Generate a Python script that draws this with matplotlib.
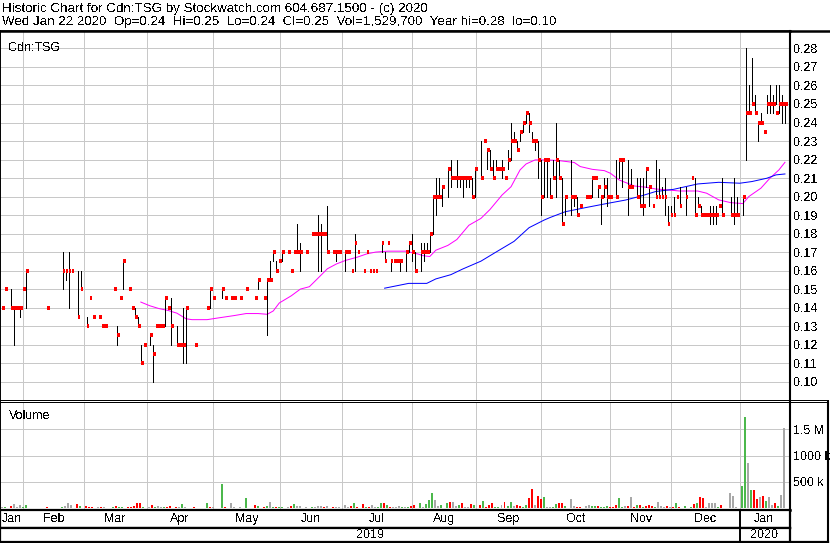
import numpy as np
import pandas as pd
import matplotlib
matplotlib.use("Agg")
import matplotlib.pyplot as plt

plt.rcParams['font.family'] = ['Liberation Sans', 'DejaVu Sans']
plt.rcParams['text.antialiased'] = False

# x axis is the trading-day number counted from Tue Jan 22 2019
days = pd.bdate_range("2019-01-22", "2020-01-22")

bar_day = [1, 2, 4, 5, 6, 7, 8, 9, 16, 21,
           22, 23, 24, 26, 27, 29, 30, 31, 33, 34,
           35, 38, 39, 40, 41, 43, 44, 45, 46, 47,
           48, 50, 51, 52, 53, 54, 55, 56, 57, 59,
           60, 61, 62, 65, 69, 70, 71, 74, 75, 77,
           78, 80, 82, 85, 86, 88, 89, 90, 91, 92,
           93, 94, 96, 97, 98, 99, 100, 102, 104, 105,
           106, 107, 108, 109, 111, 112, 113, 115, 116, 117,
           118, 119, 121, 122, 123, 124, 125, 127, 128, 129,
           130, 131, 132, 133, 135, 136, 137, 138, 140, 141,
           142, 143, 144, 145, 146, 147, 149, 150, 151, 152,
           153, 154, 155, 156, 157, 158, 160, 161, 162, 163,
           164, 165, 166, 167, 168, 169, 170, 171, 172, 173,
           174, 175, 176, 177, 178, 179, 180, 181, 182, 183,
           184, 185, 186, 187, 188, 190, 191, 192, 193, 195,
           196, 197, 198, 199, 200, 201, 202, 203, 205, 206,
           207, 209, 210, 212, 213, 214, 215, 216, 217, 218,
           219, 220, 221, 222, 223, 224, 225, 226, 228, 230,
           231, 232, 233, 234, 235, 236, 237, 238, 239, 240,
           243, 244, 245, 247, 248, 249, 250, 251, 252, 253,
           254, 255, 256, 257, 258, 259, 260, 261]
bar_high = [.14, .15, .15, .14, .14, .14, .15, .16, .14, .17,
            .16, .17, .16, .16, .16, .135, .145, .135, .135, .13,
            .13, .15, .13, .145, .165, .15, .14, .14, .135, .12,
            .12, .125, .12, .13, .13, .13, .145, .14, .145, .13,
            .12, .14, .14, .12, .14, .15, .145, .15, .145, .145,
            .145, .145, .15, .145, .155, .145, .155, .165, .17, .165,
            .165, .17, .17, .16, .17, .185, .175, .17, .18, .18,
            .19, .185, .18, .195, .17, .17, .17, .17, .17, .16,
            .18, .17, .16, .17, .16, .16, .16, .175, .17, .175,
            .165, .165, .165, .165, .17, .175, .18, .17, .175, .175,
            .175, .18, .20, .21, .21, .205, .215, .22, .21, .22,
            .21, .21, .21, .21, .21, .215, .23, .23, .225, .225,
            .22, .22, .215, .22, .21, .225, .24, .235, .23, .235,
            .24, .245, .245, .235, .23, .23, .22, .22, .22, .21,
            .22, .24, .22, .21, .20, .22, .20, .20, .195, .20,
            .20, .21, .21, .205, .20, .21, .21, .20, .22, .22,
            .22, .22, .215, .21, .21, .21, .215, .205, .195, .22,
            .215, .205, .21, .195, .195, .20, .20, .205, .205, .21,
            .21, .20, .195, .19, .19, .195, .195, .195, .195, .21,
            .20, .21, .20, .20, .28, .26, .275, .255, .24, .245,
            .235, .255, .26, .255, .26, .26, .255, .25]
bar_low = [.14, .15, .14, .12, .14, .135, .15, .14, .14, .15,
           .155, .14, .16, .135, .15, .13, .145, .135, .135, .13,
           .13, .15, .12, .145, .15, .15, .14, .135, .13, .11,
           .12, .12, .10, .13, .13, .13, .13, .14, .12, .12,
           .12, .11, .11, .12, .14, .14, .145, .145, .145, .145,
           .145, .145, .15, .145, .15, .145, .125, .155, .165, .16,
           .165, .165, .17, .16, .17, .17, .16, .17, .18, .18,
           .16, .16, .18, .17, .17, .165, .17, .16, .17, .16,
           .16, .17, .16, .17, .16, .16, .16, .17, .165, .175,
           .16, .165, .165, .16, .16, .17, .165, .16, .16, .165,
           .17, .17, .18, .19, .20, .195, .20, .205, .21, .205,
           .205, .20, .205, .205, .20, .20, .21, .23, .215, .215,
           .21, .215, .215, .21, .21, .215, .22, .23, .225, .23,
           .235, .24, .235, .23, .225, .21, .19, .20, .20, .20,
           .21, .20, .21, .185, .19, .19, .195, .19, .195, .20,
           .20, .20, .21, .20, .185, .20, .195, .20, .20, .21,
           .205, .19, .205, .20, .195, .19, .205, .195, .195, .20,
           .20, .20, .19, .185, .19, .19, .20, .195, .19, .21,
           .19, .195, .19, .19, .19, .185, .185, .185, .195, .19,
           .19, .185, .19, .19, .22, .245, .25, .245, .23, .24,
           .235, .245, .245, .245, .25, .245, .24, .24]
bar_close = [.14, .15, .14, .14, .14, .14, .15, .16, .14, .16,
             .16, .16, .16, .135, .15, .13, .145, .135, .135, .13,
             .13, .15, .125, .145, .165, .15, .14, .135, .13, .11,
             .12, .125, .115, .13, .13, .13, .145, .14, .13, .12,
             .12, .12, .14, .12, .14, .15, .145, .15, .145, .145,
             .145, .145, .15, .145, .155, .145, .155, .155, .17, .16,
             .165, .17, .17, .16, .17, .17, .17, .17, .18, .18,
             .18, .18, .18, .17, .17, .17, .17, .17, .17, .16,
             .175, .17, .16, .17, .16, .16, .16, .175, .165, .175,
             .165, .165, .165, .165, .17, .175, .17, .16, .17, .17,
             .17, .18, .20, .20, .20, .205, .215, .21, .21, .21,
             .21, .21, .21, .21, .20, .215, .21, .23, .225, .215,
             .21, .215, .215, .215, .21, .22, .23, .23, .225, .235,
             .24, .245, .24, .23, .23, .22, .20, .22, .22, .20,
             .21, .22, .21, .185, .20, .20, .20, .19, .195, .20,
             .20, .21, .21, .205, .20, .205, .20, .20, .20, .22,
             .22, .205, .205, .20, .195, .195, .215, .205, .195, .20,
             .20, .20, .20, .185, .19, .19, .20, .195, .20, .21,
             .19, .195, .19, .19, .19, .19, .19, .19, .195, .19,
             .19, .19, .19, .20, .245, .245, .25, .245, .24, .24,
             .235, .25, .25, .25, .245, .25, .25, .25]

# daily volume in thousands; direction u = up, d = down, n = unchanged
vol_day = [1, 2, 4, 5, 6, 7, 8, 9, 16, 21,
           22, 23, 24, 26, 27, 29, 30, 31, 33, 34,
           35, 38, 39, 40, 41, 43, 44, 45, 46, 47,
           48, 50, 51, 52, 53, 54, 55, 56, 57, 59,
           60, 61, 62, 65, 69, 70, 71, 74, 75, 77,
           78, 80, 82, 85, 86, 88, 89, 90, 91, 92,
           93, 94, 96, 97, 98, 99, 100, 102, 104, 105,
           106, 107, 108, 109, 111, 112, 113, 115, 116, 117,
           118, 119, 121, 122, 123, 124, 125, 126, 127, 128,
           129, 130, 131, 132, 133, 134, 135, 136, 137, 138,
           140, 141, 142, 143, 144, 145, 146, 147, 149, 150,
           151, 152, 153, 154, 155, 156, 157, 158, 160, 161,
           162, 163, 164, 165, 166, 167, 168, 169, 170, 171,
           172, 173, 174, 175, 176, 177, 178, 179, 180, 181,
           182, 183, 184, 185, 186, 187, 188, 190, 191, 192,
           193, 195, 196, 197, 198, 199, 200, 201, 202, 203,
           204, 205, 206, 207, 208, 209, 210, 211, 212, 213,
           214, 215, 216, 217, 218, 219, 220, 221, 222, 223,
           224, 225, 226, 228, 230, 231, 232, 233, 234, 235,
           236, 237, 238, 239, 240, 243, 244, 245, 247, 248,
           249, 250, 251, 252, 253, 254, 255, 256, 257, 258,
           259, 260, 261]
vol_k = [23, 23, 40, 75, 23, 57, 23, 57, 17, 23,
         40, 110, 57, 75, 40, 40, 23, 23, 23, 23,
         23, 23, 40, 23, 23, 23, 23, 40, 92, 92,
         23, 23, 57, 23, 40, 23, 23, 23, 40, 23,
         23, 75, 23, 23, 92, 17, 17, 465, 17, 92,
         17, 17, 195, 57, 40, 17, 40, 126, 17, 17,
         17, 17, 17, 40, 75, 40, 40, 17, 17, 17,
         40, 40, 17, 40, 17, 17, 17, 57, 23, 40,
         92, 17, 75, 17, 17, 57, 23, 17, 92, 92,
         57, 17, 17, 17, 40, 17, 17, 17, 40, 57,
         110, 17, 75, 155, 293, 155, 40, 57, 92, 120,
         120, 40, 57, 92, 17, 17, 75, 57, 57, 138,
         17, 57, 92, 17, 17, 57, 126, 40, 120, 40,
         57, 40, 17, 57, 190, 368, 57, 230, 178, 207,
         17, 17, 17, 75, 92, 92, 40, 178, 40, 17,
         17, 40, 57, 40, 40, 40, 25, 25, 44, 25,
         25, 57, 196, 25, 44, 44, 215, 25, 57, 57,
         25, 44, 57, 44, 25, 120, 44, 25, 44, 25,
         25, 101, 25, 44, 25, 76, 101, 215, 196, 25,
         101, 101, 101, 25, 57, 285, 234, 25, 418, 1730,
         861, 348, 348, 177, 209, 234, 139, 209, 57, 95,
         44, 247, 1530]
vol_dir = ("nudnnnuudu" "nnndudddnd" "nuduuddddd" "undunnuddd"
           "nundudnudn" "nnududunud" "uundunnnun" "nndndnnnnd"
           "uddudnnuud" "udnnnunudd" "unuuunnuud" "nnudnndudu"
           "ddduunduun" "dduuddnddu" "nnuuddunnd" "dnnuuduuud"
           "dduundndud" "udddunnndn" "duduududdn" "nnnudnnnuu"
           "nuddndunnd" "unn")

# moving averages (day, price)
ma_fast_day = [47, 50, 53, 56, 59, 62, 64, 69, 73, 78, 82, 86, 89, 91, 93,
               97, 100, 103, 105, 109, 112, 115, 119, 122, 125, 129, 135,
               139, 141, 143, 145, 149, 152, 156, 160, 163, 167, 170, 173,
               175, 178, 182, 186, 191, 193, 197, 201, 203, 206, 211, 215,
               218, 222, 226, 232, 235, 239, 243, 247, 249, 253, 256, 259, 261]
ma_fast = [.143, .141, .1395, .1385, .137, .134, .1335, .1335, .1345, .1357,
           .1368, .1368, .1364, .1382, .1425, .1464, .150, .1513, .1545, .161,
           .1636, .1655, .1673, .169, .170, .1705, .1705, .169, .168, .1676,
           .171, .1736, .1768, .1845, .1882, .193, .2008, .2053, .2144, .2176,
           .2198, .2198, .2194, .2184, .2162, .2147, .214, .2126, .2089, .2057,
           .205, .2041, .2036, .203, .203, .2018, .1982, .1967, .1962, .200,
           .2045, .2099, .2144, .2185]
ma_slow_day = [128, 132, 136, 142, 145, 150, 154, 160, 165, 171, 176, 181,
               183, 188, 195, 202, 208, 213, 218, 224, 232, 239, 246, 250,
               255, 258, 261]
ma_slow = [.1505, .1518, .1531, .1531, .1555, .1578, .1609, .1651, .170,
           .1758, .1832, .1873, .1887, .1918, .1941, .1963, .1981, .2002,
           .2027, .2039, .2068, .2077, .2072, .2081, .2099, .2117, .2122]

price_ticks = [round(0.10 + 0.01 * k, 2) for k in range(19)]
vol_ticks = [500e3, 1000e3, 1500e3]
vol_labels = ["500 k", "1000 k", "1.5 M"]

header1 = "Historic Chart for Cdn:TSG by Stockwatch.com 604.687.1500 - (c) 2020"
header2 = ("Wed Jan 22 2020  Op=0.24  Hi=0.25  Lo=0.24  Cl=0.25  "
           "Vol=1,529,700  Year hi=0.28  lo=0.10")

# ---------------------------------------------------------------------------
W, H = 830, 543
fig = plt.figure(figsize=(W / 100, H / 100), dpi=100)
PX = 0.72
GRID = '#c8c8c8'
FS = 9


def box(x0, y0, x1, y1):
    return [x0 / W, 1 - y1 / H, (x1 - x0) / W, (y1 - y0) / H]


x_lo = 0.22
x_hi = x_lo + 790 / 3.01

edges = []
for m in pd.date_range("2019-02-01", "2020-01-01", freq="MS"):
    k = days.searchsorted(m)
    edges.append(k if m.weekday() < 5 else k - 0.8)
year_edge = edges[-1]

bar_day = np.array(bar_day)
vol_day = np.array(vol_day)

# price panel
ax = fig.add_axes(box(0, 30.5, 790, 400))
ax.set_xlim(x_lo, x_hi)
ax.set_ylim(0.0901, 0.2897)
ax.set_yticks(price_ticks)
ax.set_yticklabels(["%.2f" % t for t in price_ticks])
ax.yaxis.tick_right()
ax.tick_params(axis='y', length=0, pad=2.5, labelsize=FS)
ax.set_xticks([])
ax.grid(axis='y', color=GRID, lw=PX)
for e in edges:
    ax.axvline(e, color=GRID, lw=PX, zorder=0.5)
ax.vlines(bar_day, bar_low, bar_high, colors='black', lw=PX,
          antialiased=False, zorder=3)
ax.hlines(bar_close, bar_day, bar_day + 0.95, colors='red', lw=1.46,
          antialiased=False, capstyle='butt', zorder=4)
ax.plot(ma_fast_day, ma_fast, color='#ff00ff', lw=PX, zorder=2)
ax.plot(ma_slow_day, ma_slow, color='#0000ff', lw=PX, zorder=2)
for s in ax.spines.values():
    s.set_color('black')
ax.spines['top'].set_linewidth(1.8)
ax.spines['right'].set_linewidth(1.5)
ax.spines['left'].set_linewidth(1.4)
ax.spines['bottom'].set_linewidth(PX)
ax.text(0.011, 0.97, "Cdn:TSG", transform=ax.transAxes, fontsize=FS,
        ha='left', va='top')

# volume panel
vax = fig.add_axes(box(0, 402, 790, 509.5))
vax.set_xlim(x_lo, x_hi)
vax.set_ylim(-23e3, 2.02e6)
vax.set_yticks(vol_ticks)
vax.set_yticklabels(vol_labels)
vax.yaxis.tick_right()
vax.tick_params(axis='y', length=0, pad=2.5, labelsize=FS)
vax.set_xticks([])
vax.grid(axis='y', color=GRID, lw=PX)
for e in edges:
    vax.axvline(e, color=GRID, lw=PX, zorder=0.5)
dir_color = {'u': '#4cb84c', 'd': '#ff0000', 'n': '#a8a8a8'}
vax.bar(vol_day - 0.17, np.array(vol_k) * 1e3, width=0.66,
        color=[dir_color[c] for c in vol_dir], antialiased=False, zorder=3)
for s in vax.spines.values():
    s.set_color('black')
vax.spines['top'].set_linewidth(PX)
vax.spines['right'].set_linewidth(1.5)
vax.spines['left'].set_linewidth(1.4)
vax.spines['bottom'].set_linewidth(1.8)
vax.text(0.011, 0.93, "Volume", transform=vax.transAxes, fontsize=FS,
         ha='left', va='top')

# month row and year row
mids = [x_lo] + edges + [262]
names = [d.strftime('%b') for d in
         pd.date_range("2019-01-01", "2020-01-01", freq="MS")]
max_ = fig.add_axes(box(0, 509.5, 790, 527.5))
yax = fig.add_axes(box(0, 527.5, 790, 542))
for a in (max_, yax):
    a.set_xlim(x_lo, x_hi)
    a.set_ylim(0, 1)
    a.set_xticks([])
    a.set_yticks([])
    for s in a.spines.values():
        s.set_color('black')
        s.set_linewidth(1.6)
    a.axvline(year_edge, color='black', lw=1.4)
for k, nm in enumerate(names):
    max_.text((mids[k] + mids[k + 1]) / 2, 0.45, nm, fontsize=FS,
              ha='center', va='center')
yax.text((x_lo + year_edge) / 2, 0.45, "2019", fontsize=FS,
         ha='center', va='center')
yax.text((year_edge + 262) / 2, 0.45, "2020", fontsize=FS,
         ha='center', va='center')

# header and outer frame, in pixel coordinates
top = fig.add_axes([0, 0, 1, 1], zorder=-1)
top.set_xlim(0, W)
top.set_ylim(H, 0)
top.axis('off')
top.text(2, 9, header1, fontsize=9.6, ha='left', va='center')
top.text(2, 22, header2, fontsize=9.6, ha='left', va='center')
top.plot([0, W], [31, 31], color='black', lw=1.8)
top.plot([790, 828], [400, 400], color='black', lw=PX)
top.plot([790, 828], [402, 402], color='black', lw=PX)
top.plot([828, 828], [402, 542], color='black', lw=1.5)
top.plot([790, 828], [542, 542], color='black', lw=1.6)

fig.savefig("out.png", dpi=100)
